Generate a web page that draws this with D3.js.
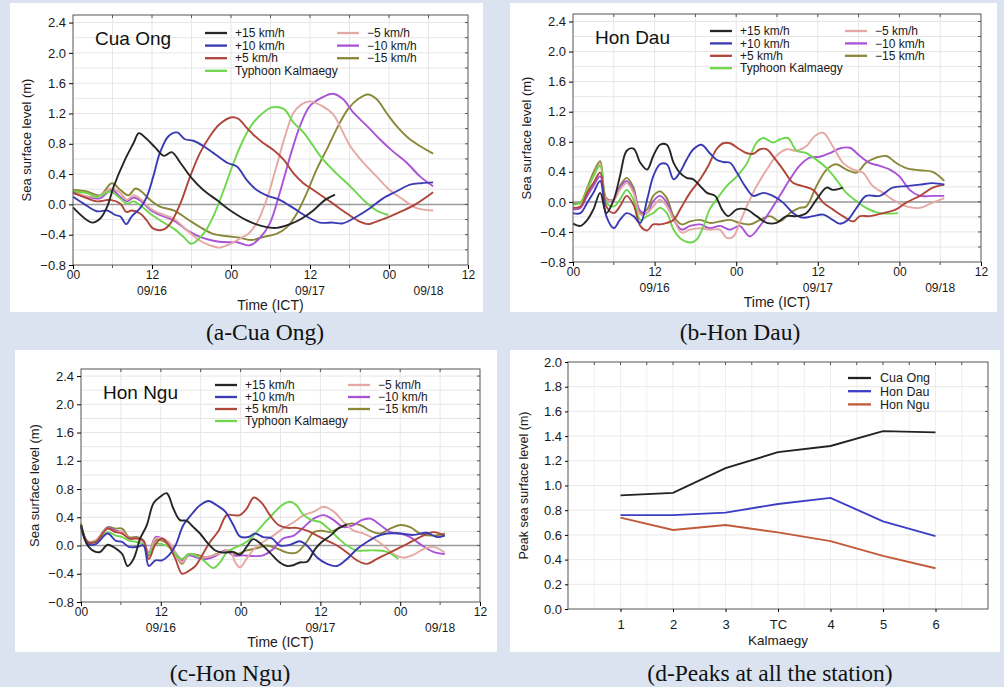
<!DOCTYPE html>
<meta charset="utf-8">
<style>
body { margin: 0; background: #dae3ef; }
svg { display: block; font-family: "Liberation Sans", Arial, sans-serif; }
.caption { font-family: "Liberation Serif", "Times New Roman", serif; font-size: 23.5px; fill: #111; }
.tick text { font-size: 13px; fill: #1a1a1a; }
.xax .tick text { font-size: 12px; }
</style>
<svg width="1004" height="687"></svg>
<script src="https://cdn.jsdelivr.net/npm/d3@7"></script>
<script>

// series labels / colours (same order in every station panel)
var seriesNames = ["+15 km/h", "+10 km/h", "+5 km/h", "Typhoon Kalmaegy", "\u22125 km/h", "\u221210 km/h", "\u221215 km/h"];
var seriesColors = ["#262626", "#3a3ab4", "#b0453a", "#6ed64c", "#e4a9a3", "#a952d8", "#8a8838"];
var hourLabels = ["00", "12", "00", "12", "00", "12"];
var dateLabels = ["09/16", "09/17", "09/18"];
var dateHours = [12, 36, 54];

// ---- Cua Ong: [hour, sea level m]
var caP15 = [[0,-0.04],[2.9,-0.24],[4.1,-0.19],[5.2,-0.03],[6.2,0.24],[7.9,0.59],[9.2,0.81],[10,0.94],[11,0.88],[12.5,0.75],[13.8,0.64],[15,0.69],[16.3,0.55],[18,0.35],[19.8,0.19],[21.8,0.06],[23.9,-0.08],[26.4,-0.21],[28.9,-0.29],[30.9,-0.31],[33,-0.26],[34.7,-0.19],[36.5,-0.08],[38.3,0.06],[39.8,0.13]];
var caP10 = [[0,0.10],[1.6,0.01],[3.6,-0.09],[5.2,-0.08],[6.4,-0.14],[7.2,-0.16],[8.1,-0.26],[8.9,-0.16],[10.2,-0.05],[11.2,0.10],[12.2,0.37],[13.2,0.68],[14.5,0.90],[15.8,0.95],[17,0.86],[18.3,0.84],[19.8,0.77],[21.3,0.68],[23.4,0.55],[24.9,0.50],[26.4,0.32],[27.9,0.19],[29.4,0.12],[31.4,0.06],[33.5,-0.05],[35.5,-0.16],[37.5,-0.24],[39.5,-0.24],[41,-0.25],[43.1,-0.16],[45.1,-0.05],[47.1,0.08],[49.1,0.17],[51.2,0.26],[52.9,0.28],[54.7,0.29]];
var caP5 = [[0,0.16],[1.6,0.10],[3.6,0.04],[5.7,0.06],[7.2,0.01],[8.1,-0.10],[8.9,-0.08],[10.2,-0.12],[11.2,-0.21],[12.2,-0.32],[13.8,-0.33],[14.8,-0.25],[16.3,0.01],[17.8,0.37],[19.3,0.68],[20.8,0.90],[22.3,1.06],[24.1,1.15],[25.1,1.13],[26.4,1.01],[27.4,0.92],[28.9,0.81],[30.4,0.72],[32,0.59],[33.5,0.41],[35,0.28],[36.5,0.19],[38,0.10],[39.5,0.01],[41.6,-0.12],[43.6,-0.23],[44.8,-0.26],[46.6,-0.21],[48.1,-0.16],[50.2,-0.08],[52.2,0.01],[54.7,0.16]];
var caTC = [[0,0.17],[2.1,0.15],[3.6,0.10],[5.7,0.17],[6.9,0.10],[8.2,0.01],[9.2,0.04],[10.2,-0.01],[11.7,-0.12],[13.2,-0.21],[15.3,-0.32],[16.8,-0.43],[18,-0.52],[19.8,-0.39],[21.3,-0.16],[22.9,0.19],[24.4,0.55],[25.9,0.86],[27.4,1.08],[28.9,1.21],[30.2,1.28],[32,1.26],[33.5,1.08],[35,0.95],[36.5,0.77],[38,0.59],[40,0.41],[42.1,0.24],[44.1,0.06],[46.1,-0.08],[47.9,-0.14]];
var caM5 = [[0,0.18],[1.6,0.12],[3.6,0.10],[5.9,0.21],[7.2,0.15],[8.2,0.06],[9.2,0.12],[10.4,0.06],[11.7,-0.05],[13.2,-0.12],[15.3,-0.19],[17.3,-0.34],[19.3,-0.48],[20.8,-0.54],[22.3,-0.57],[23.9,-0.52],[25.4,-0.45],[26.6,-0.39],[27.9,-0.25],[29.4,0.06],[30.9,0.50],[32.2,0.90],[33.5,1.21],[34.7,1.32],[36,1.36],[37.8,1.30],[39.5,1.19],[40.5,1.04],[42.1,0.77],[44.1,0.55],[46.1,0.37],[48.1,0.19],[50.2,0.06],[52.2,-0.05],[54.7,-0.08]];
var caM10 = [[0,0.15],[2.1,0.10],[4.1,0.08],[5.9,0.19],[7.2,0.10],[8.2,0.04],[9.2,0.09],[10.4,0.04],[11.7,-0.07],[13.2,-0.14],[15.3,-0.21],[17.3,-0.34],[19.3,-0.43],[21.3,-0.48],[23.4,-0.50],[24.9,-0.50],[26.9,-0.54],[28.4,-0.44],[29.9,-0.25],[31.4,0.15],[33,0.64],[34.5,1.04],[36,1.30],[37.8,1.41],[39.5,1.46],[41,1.39],[42.6,1.21],[44.6,1.04],[46.6,0.86],[48.6,0.70],[50.7,0.55],[52.7,0.37],[54.7,0.24]];
var caM15 = [[0,0.19],[2.1,0.17],[4.1,0.12],[5.9,0.28],[7.2,0.19],[8.4,0.12],[9.5,0.21],[10.4,0.17],[11.7,0.06],[13.2,-0.03],[15.3,-0.08],[17.3,-0.19],[19.3,-0.30],[21.3,-0.39],[23.4,-0.42],[25.4,-0.44],[27.1,-0.47],[28.9,-0.43],[30.9,-0.39],[32.5,-0.30],[34,-0.12],[35.5,0.15],[37,0.46],[38.8,0.77],[40.3,1.04],[41.8,1.26],[43.3,1.39],[44.8,1.45],[46.1,1.39],[47.6,1.21],[49.1,1.04],[50.9,0.88],[52.7,0.77],[54.7,0.67]];

// ---- Hon Dau
var hdP15 = [[0,-0.29],[1.1,-0.32],[2.1,-0.24],[3,-0.10],[4,0.12],[4.9,-0.15],[6,0.03],[6.9,0.34],[7.9,0.68],[8.9,0.71],[9.9,0.52],[10.9,0.43],[11.8,0.61],[12.8,0.76],[13.8,0.76],[14.8,0.52],[15.7,0.39],[16.7,0.32],[17.7,0.30],[18.7,0.21],[19.7,0.12],[20.9,0.08],[21.9,-0.10],[22.8,-0.19],[24.1,-0.10],[25.5,-0.10],[27,-0.19],[28.5,-0.28],[29.9,-0.28],[31.4,-0.19],[32.9,-0.19],[34.3,-0.15],[35.8,0.03],[37.3,0.19],[38.2,0.16],[39.7,0.19]];
var hdP10 = [[0,-0.15],[1.1,-0.15],[2.1,-0.01],[3,0.12],[4,0.28],[4.9,-0.19],[6,-0.35],[6.9,-0.24],[7.9,-0.15],[8.9,-0.19],[9.9,-0.28],[10.9,0.03],[11.8,0.34],[12.8,0.50],[13.8,0.50],[14.8,0.30],[15.7,0.39],[16.7,0.56],[17.7,0.70],[18.9,0.76],[20.1,0.65],[21.1,0.56],[22.1,0.53],[23.1,0.52],[24.1,0.39],[25.3,0.21],[26.5,0.08],[28,0.12],[29.4,0.08],[30.9,-0.01],[32.4,-0.15],[33.8,-0.21],[35.3,-0.19],[36.8,-0.17],[38.2,-0.24],[39.2,-0.29],[40.4,-0.24],[41.7,-0.08],[43.1,0.08],[45.1,0.08],[47,0.19],[49,0.21],[51,0.23],[52.9,0.25],[54.6,0.23]];
var hdP5 = [[0,-0.08],[1.1,-0.06],[2.1,0.12],[3,0.25],[4,0.39],[4.9,-0.06],[6,-0.15],[6.9,-0.06],[7.9,0.08],[8.9,-0.04],[9.9,-0.32],[10.9,-0.38],[11.8,-0.30],[12.8,-0.30],[13.8,-0.28],[14.8,-0.24],[16,-0.06],[17.2,0.12],[18.7,0.30],[19.9,0.48],[21.1,0.70],[22.1,0.78],[23.1,0.78],[24.5,0.70],[25.5,0.65],[26.5,0.64],[27.5,0.70],[28.5,0.70],[29.4,0.61],[30.9,0.43],[32.4,0.25],[33.8,0.21],[35.3,0.16],[36.8,-0.01],[38.2,-0.10],[39.7,-0.19],[41.2,-0.26],[42.2,-0.19],[43.6,-0.19],[45.6,-0.15],[47.5,-0.10],[49,-0.01],[51,0.08],[52.9,0.19],[54.6,0.23]];
var hdTC = [[0,-0.04],[1.1,-0.01],[2.1,0.16],[3,0.34],[4,0.48],[4.9,-0.01],[6,-0.06],[6.9,0.03],[7.9,0.16],[8.9,0.03],[9.9,-0.24],[10.9,-0.19],[11.8,-0.15],[12.8,-0.08],[13.8,-0.15],[14.8,-0.37],[16,-0.50],[17.2,-0.54],[18.2,-0.50],[19.2,-0.32],[20.1,-0.10],[21.1,0.03],[22.6,0.21],[24.1,0.34],[25.5,0.50],[27,0.79],[28,0.85],[29.4,0.79],[30.4,0.83],[31.6,0.85],[32.9,0.68],[34.3,0.65],[35.8,0.56],[37.3,0.45],[38.7,0.30],[40.2,0.12],[41.7,0.01],[43.1,-0.08],[45.1,-0.15],[47.8,-0.15]];
var hdM5 = [[0,-0.08],[1.1,-0.06],[2.1,0.16],[3,0.34],[4,0.50],[4.9,0.03],[6,0.03],[6.9,0.16],[7.9,0.25],[8.9,0.12],[9.9,-0.17],[10.9,-0.15],[11.8,-0.06],[12.8,0.03],[13.8,-0.06],[14.8,-0.24],[16,-0.41],[17.2,-0.37],[18.7,-0.35],[20.1,-0.37],[21.6,-0.37],[22.6,-0.48],[23.6,-0.46],[24.5,-0.28],[25.8,-0.01],[27,0.21],[28.5,0.43],[29.9,0.61],[31.4,0.70],[32.9,0.68],[34.3,0.74],[35.6,0.88],[36.8,0.92],[38.2,0.74],[39.7,0.52],[41.2,0.43],[42.6,0.39],[44.1,0.21],[45.6,0.12],[47,0.03],[49,-0.06],[51,-0.08],[52.9,-0.01],[54.6,0.05]];
var hdM10 = [[0,-0.10],[1.1,-0.08],[2.1,0.08],[3,0.21],[4,0.34],[4.9,0.03],[6,0.03],[6.9,0.19],[7.9,0.28],[8.9,0.14],[9.9,-0.12],[10.9,-0.15],[11.8,0.01],[12.8,0.08],[13.8,-0.01],[14.8,-0.24],[16,-0.37],[17.2,-0.32],[18.7,-0.30],[20.1,-0.35],[21.6,-0.32],[23.1,-0.37],[24.5,-0.32],[26,-0.46],[27.5,-0.32],[29,-0.12],[30.4,0.08],[31.9,0.30],[33.3,0.48],[34.8,0.59],[36.3,0.60],[37.8,0.65],[39.2,0.71],[40.7,0.72],[42.2,0.61],[43.6,0.52],[45.1,0.48],[46.6,0.43],[48,0.34],[49.5,0.16],[51,0.08],[52.9,0.08],[54.6,0.08]];
var hdM15 = [[0,-0.02],[1.1,-0.01],[2.1,0.19],[3,0.39],[4,0.54],[4.9,0.05],[6,0.03],[6.9,0.21],[7.9,0.32],[8.9,0.19],[9.9,-0.15],[10.9,-0.10],[11.8,0.08],[12.8,0.14],[13.8,0.05],[14.8,-0.19],[16,-0.30],[17.2,-0.26],[18.7,-0.24],[20.1,-0.28],[21.6,-0.26],[23.1,-0.24],[24.5,-0.28],[26,-0.30],[27.5,-0.24],[29,-0.19],[30.4,-0.26],[31.9,-0.15],[33.3,-0.08],[34.3,-0.06],[35.8,0.21],[37.3,0.43],[38.7,0.50],[40.2,0.43],[41.7,0.39],[43.1,0.52],[44.6,0.59],[46.1,0.61],[47.5,0.52],[49,0.45],[51,0.42],[52.9,0.40],[54.6,0.28]];

// ---- Hon Ngu
var hnP15 = [[0,0.29],[1,0.0],[2.2,-0.09],[2.9,-0.09],[4,0.01],[5.2,-0.04],[6.2,-0.12],[7,-0.29],[7.9,-0.19],[8.9,0.10],[9.9,0.29],[10.9,0.60],[11.9,0.69],[12.9,0.74],[13.9,0.52],[14.9,0.36],[15.9,0.35],[16.9,0.26],[17.9,0.17],[18.9,0.05],[20.2,-0.07],[21.4,-0.10],[22.9,-0.09],[23.9,-0.13],[24.9,-0.02],[25.9,0.09],[27.2,0.01],[28.4,-0.10],[29.9,-0.24],[31,-0.29],[31.9,-0.28],[32.9,-0.24],[34,-0.23],[35.2,-0.05],[36.2,0.05],[37.5,0.14],[38.7,0.24],[40,0.30]];
var hnP10 = [[0,0.26],[1,0.02],[2.2,0.02],[4,0.17],[5.2,0.07],[6.2,0.05],[7.2,-0.02],[8.4,-0.02],[9.4,0.0],[10.2,-0.29],[11.2,-0.21],[12.2,-0.21],[13.2,-0.14],[14.2,0.0],[15.4,0.29],[16.7,0.45],[17.9,0.57],[19.2,0.63],[20.4,0.57],[21.7,0.48],[22.9,0.29],[23.9,0.13],[25.2,0.12],[26.2,0.17],[27.4,0.12],[28.7,0.10],[29.9,0.0],[31.4,0.01],[32.9,0.06],[34.2,-0.02],[35.5,-0.17],[37,-0.26],[38.5,-0.29],[40,-0.19],[41.5,-0.05],[43,0.05],[44.5,0.13],[46,0.17],[48,0.17],[50,0.15],[52,0.18],[53.5,0.12],[54.7,0.14]];
var hnP5 = [[0,0.29],[1,0.05],[2.2,0.05],[4,0.24],[5.2,0.19],[6.2,0.17],[7.2,0.10],[8.4,0.10],[9.4,0.07],[10.2,-0.19],[11.2,0.02],[12.2,0.10],[13.2,0.0],[14.2,-0.19],[15.2,-0.40],[16.2,-0.36],[17.2,-0.29],[18.2,-0.14],[19.4,0.05],[20.7,0.21],[21.9,0.43],[22.9,0.43],[23.9,0.43],[24.9,0.52],[26,0.68],[27.2,0.60],[28.4,0.43],[29.7,0.29],[31,0.25],[32.4,0.25],[34,0.21],[35.5,0.14],[37,0.07],[38.5,0.0],[40,-0.10],[41.5,-0.21],[43,-0.26],[44.5,-0.19],[46,-0.12],[47.5,-0.05],[49,0.02],[51,0.12],[53,0.19],[54.7,0.14]];
var hnTC = [[0,0.31],[1,0.05],[2.2,0.05],[4,0.19],[5.2,0.14],[6.2,0.12],[7.2,0.07],[8.4,0.05],[9.4,0.01],[10.2,-0.12],[11.2,0.02],[12.2,0.02],[13.2,-0.02],[14.2,-0.12],[15.2,-0.19],[16.2,-0.12],[17.2,-0.14],[18.4,-0.21],[19.9,-0.32],[20.9,-0.24],[21.9,-0.10],[22.9,-0.04],[23.9,0.0],[25.2,0.07],[26.4,0.19],[27.7,0.33],[28.9,0.45],[30.2,0.57],[31.4,0.62],[32.4,0.57],[33.5,0.43],[34.7,0.36],[36,0.33],[37.2,0.24],[38.5,0.12],[40,0.0],[41.5,-0.07],[43,-0.07],[44.5,-0.07],[46,-0.09],[47.7,-0.19]];
var hnM5 = [[0,0.29],[1,0.05],[2.2,0.07],[4,0.24],[5.2,0.19],[6.2,0.20],[7.2,0.10],[8.4,0.10],[9.4,0.05],[10.2,-0.12],[11.2,0.10],[12.2,0.10],[13.2,0.05],[14.2,-0.10],[15.2,-0.24],[16.2,-0.12],[17.2,-0.14],[18.4,-0.17],[19.9,-0.14],[21.2,-0.10],[22.4,-0.07],[23.2,-0.24],[23.9,-0.31],[24.9,-0.19],[26,-0.05],[27.4,0.05],[28.9,0.14],[30.4,0.24],[32,0.33],[33.5,0.43],[35,0.48],[36.5,0.55],[38,0.48],[39.5,0.33],[41,0.21],[42.5,0.17],[44,0.10],[45.5,0.0],[47,-0.12],[48.5,-0.17],[50,-0.13],[51.5,-0.05],[53,-0.02],[54.7,-0.10]];
var hnM10 = [[0,0.29],[1,0.04],[2.2,0.06],[4,0.25],[5.2,0.21],[6.2,0.19],[7.2,0.10],[8.4,0.10],[9.4,0.04],[10.2,-0.10],[11.2,0.12],[12.2,0.10],[13.2,0.02],[14.2,-0.10],[15.2,-0.21],[16.2,-0.14],[17.4,-0.17],[18.9,-0.19],[20.4,-0.14],[21.7,-0.07],[22.9,-0.14],[24.4,-0.14],[26,-0.15],[27.4,-0.14],[28.9,-0.05],[30.4,0.10],[32,0.14],[33.5,0.26],[35,0.38],[36.5,0.43],[38,0.36],[39.5,0.26],[41,0.29],[42.2,0.36],[43.5,0.38],[45,0.29],[46.5,0.19],[48,0.17],[49.5,0.12],[51,0.02],[53,-0.09],[54.7,-0.12]];
var hnM15 = [[0,0.31],[1,0.06],[2.2,0.07],[4,0.26],[5.2,0.24],[6.2,0.24],[7.2,0.12],[8.4,0.12],[9.4,0.07],[10.2,-0.14],[11.2,0.07],[12.2,0.07],[13.2,0.01],[14.2,-0.12],[15.2,-0.26],[16.2,-0.13],[17.4,-0.13],[18.9,-0.17],[20.4,-0.12],[21.9,-0.07],[23.4,-0.12],[24.9,-0.07],[26.4,-0.04],[27.9,0.0],[29.4,-0.04],[31,-0.10],[32.4,-0.10],[33.7,0.02],[35,0.19],[36.2,0.21],[37.5,0.19],[39,0.26],[40.5,0.31],[42,0.29],[43.5,0.21],[45,0.17],[46.5,0.24],[48,0.29],[49.5,0.26],[51,0.17],[53,0.14],[54.7,0.17]];

// ---- peaks (panel d)
var peakCats = ["1", "2", "3", "TC", "4", "5", "6"];
var peakCuaOng = [0.92, 0.94, 1.14, 1.27, 1.32, 1.44, 1.43];
var peakHonDau = [0.76, 0.76, 0.78, 0.85, 0.90, 0.71, 0.59];
var peakHonNgu = [0.74, 0.64, 0.68, 0.62, 0.55, 0.43, 0.33];
var peakNames = ["Cua Ong", "Hon Dau", "Hon Ngu"];
var peakColors = ["#222222", "#3d3dc8", "#c05a38"];

var svg = d3.select("svg");

function timePanel(o) {
  var g = svg.append("g");
  g.append("rect")
    .attr("x", o.box[0]).attr("y", o.box[1])
    .attr("width", o.box[2]).attr("height", o.box[3])
    .attr("fill", "#fff");

  var x = d3.scaleLinear().domain([0, 60]).range([o.left, o.right]);
  var y = d3.scaleLinear().domain([-0.8, 2.5]).range([o.bottom, o.top]);

  // grid
  g.append("g").selectAll("line")
    .data(d3.range(1, 10).map(i => i * 6))
    .join("line")
      .attr("x1", d => x(d)).attr("x2", d => x(d))
      .attr("y1", o.top).attr("y2", o.bottom)
      .attr("stroke", "#e6e6e6");
  g.append("g").selectAll("line")
    .data(d3.range(-3, 13).map(i => i * 0.2))
    .join("line")
      .attr("x1", o.left).attr("x2", o.right)
      .attr("y1", d => y(d)).attr("y2", d => y(d))
      .attr("stroke", "#e6e6e6");
  g.append("line")
    .attr("x1", o.left).attr("x2", o.right)
    .attr("y1", y(0)).attr("y2", y(0))
    .attr("stroke", "#9a9a9a").attr("stroke-width", 1.5);

  var line = d3.line()
    .x(d => x(d[0])).y(d => y(d[1]))
    .curve(d3.curveCatmullRom.alpha(0.5));

  var order = [6, 5, 4, 3, 2, 1, 0];
  g.append("g").selectAll("path")
    .data(order)
    .join("path")
      .attr("d", i => line(o.series[i]))
      .attr("fill", "none")
      .attr("stroke", i => seriesColors[i])
      .attr("stroke-width", 1.9)
      .attr("stroke-linejoin", "round");

  // frame
  g.append("rect")
    .attr("x", o.left).attr("y", o.top)
    .attr("width", o.right - o.left).attr("height", o.bottom - o.top)
    .attr("fill", "none").attr("stroke", "#555");

  // inward minor ticks on top / right
  g.append("g").selectAll("line")
    .data(d3.range(1, 10).map(i => i * 6))
    .join("line")
      .attr("x1", d => x(d)).attr("x2", d => x(d))
      .attr("y1", o.top).attr("y2", o.top + 3)
      .attr("stroke", "#555");
  g.append("g").selectAll("line")
    .data(d3.range(-3, 13).map(i => i * 0.2))
    .join("line")
      .attr("x1", o.right).attr("x2", o.right - 3)
      .attr("y1", d => y(d)).attr("y2", d => y(d))
      .attr("stroke", "#555");

  var yAxis = g.append("g")
    .attr("transform", "translate(" + o.left + ",0)")
    .call(d3.axisLeft(y)
      .tickValues(d3.range(-2, 7).map(i => i * 0.4))
      .tickFormat(d3.format(".1f"))
      .tickSize(4).tickPadding(3));
  yAxis.select(".domain").remove();

  var xAxis = g.append("g")
    .attr("class", "xax")
    .attr("transform", "translate(0," + o.bottom + ")")
    .call(d3.axisBottom(x)
      .tickValues([0, 12, 24, 36, 48, 60])
      .tickFormat((d, i) => hourLabels[i])
      .tickSize(4).tickPadding(1));
  xAxis.select(".domain").remove();
  g.append("g").selectAll("line")
    .data([6, 18, 30, 42, 54])
    .join("line")
      .attr("x1", d => x(d)).attr("x2", d => x(d))
      .attr("y1", o.bottom).attr("y2", o.bottom + 3)
      .attr("stroke", "#555");

  g.append("g").selectAll("text")
    .data(dateLabels)
    .join("text")
      .attr("x", (d, i) => x(dateHours[i]))
      .attr("y", o.bottom + 30)
      .attr("text-anchor", "middle")
      .attr("font-size", 12).attr("fill", "#1a1a1a")
      .text(d => d);

  g.append("text")
    .attr("x", x(30)).attr("y", o.bottom + 45)
    .attr("text-anchor", "middle")
    .attr("font-size", 14).attr("fill", "#1a1a1a")
    .text("Time (ICT)");

  g.append("text")
    .attr("transform", "translate(" + (o.left - 42) + "," + ((o.top + o.bottom) / 2) + ") rotate(-90)")
    .attr("text-anchor", "middle")
    .attr("font-size", 13).attr("fill", "#1a1a1a")
    .text("Sea surface level (m)");

  g.append("text")
    .attr("x", o.left + 22).attr("y", o.top + 30)
    .attr("font-size", 19).attr("fill", "#111")
    .text(o.name);

  // legend
  var leg = g.append("g").selectAll("g")
    .data(seriesNames)
    .join("g")
      .attr("transform", (d, i) => {
        var col = i < 4 ? 0 : 1, row = i < 4 ? i : i - 4;
        return "translate(" + (o.legX + col * o.legCol) + "," + (o.legY + row * o.legRow) + ")";
      });
  leg.append("line")
    .attr("x1", 0).attr("x2", 22)
    .attr("stroke", (d, i) => seriesColors[i])
    .attr("stroke-width", 2.3);
  leg.append("text")
    .attr("x", 30).attr("dy", "0.35em")
    .attr("font-size", 12).attr("fill", "#1a1a1a")
    .text(d => d);

  svg.append("text")
    .attr("class", "caption")
    .attr("x", o.capX).attr("y", o.capY)
    .attr("text-anchor", "middle")
    .text(o.caption);
}

timePanel({
  box: [10, 3, 473, 309], left: 73, right: 468, top: 15, bottom: 265,
  name: "Cua Ong", series: [caP15, caP10, caP5, caTC, caM5, caM10, caM15],
  legX: 205, legY: 33, legRow: 12.6, legCol: 132,
  caption: "(a-Cua Ong)", capX: 265, capY: 340
});
timePanel({
  box: [510, 3, 487, 309], left: 573, right: 981, top: 14, bottom: 262,
  name: "Hon Dau", series: [hdP15, hdP10, hdP5, hdTC, hdM5, hdM10, hdM15],
  legX: 710, legY: 31, legRow: 12.4, legCol: 135,
  caption: "(b-Hon Dau)", capX: 740, capY: 340
});
timePanel({
  box: [15, 350, 482, 302], left: 81, right: 480, top: 369, bottom: 602,
  name: "Hon Ngu", series: [hnP15, hnP10, hnP5, hnTC, hnM5, hnM10, hnM15],
  legX: 215, legY: 385, legRow: 12, legCol: 133,
  caption: "(c-Hon Ngu)", capX: 230, capY: 681
});

// ---- panel d: peaks
(function() {
  var left = 568, right = 988, top = 362, bottom = 609;
  var g = svg.append("g");
  g.append("rect").attr("x", 510).attr("y", 350).attr("width", 490).attr("height", 302).attr("fill", "#fff");

  var x = d3.scaleLinear().domain([0, 8]).range([left, right]);
  var y = d3.scaleLinear().domain([0, 2]).range([bottom, top]);

  g.append("g").selectAll("line")
    .data(d3.range(1, 16).map(i => i * 0.5))
    .join("line")
      .attr("x1", d => x(d)).attr("x2", d => x(d))
      .attr("y1", top).attr("y2", bottom)
      .attr("stroke", "#efefef");
  g.append("g").selectAll("line")
    .data(d3.range(1, 10).map(i => i * 0.2))
    .join("line")
      .attr("x1", left).attr("x2", right)
      .attr("y1", d => y(d)).attr("y2", d => y(d))
      .attr("stroke", "#e8e8e8");

  var series = [peakCuaOng, peakHonDau, peakHonNgu];
  var line = d3.line().x((d, i) => x(i + 1)).y(d => y(d));
  g.append("g").selectAll("path")
    .data(series)
    .join("path")
      .attr("d", d => line(d))
      .attr("fill", "none")
      .attr("stroke", (d, i) => peakColors[i])
      .attr("stroke-width", 1.9);

  g.append("rect")
    .attr("x", left).attr("y", top)
    .attr("width", right - left).attr("height", bottom - top)
    .attr("fill", "none").attr("stroke", "#555");
  g.append("g").selectAll("line")
    .data(d3.range(1, 16).map(i => i * 0.5))
    .join("line")
      .attr("x1", d => x(d)).attr("x2", d => x(d))
      .attr("y1", top).attr("y2", top + 3)
      .attr("stroke", "#555");
  g.append("g").selectAll("line")
    .data(d3.range(1, 10).map(i => i * 0.2))
    .join("line")
      .attr("x1", right).attr("x2", right - 3)
      .attr("y1", d => y(d)).attr("y2", d => y(d))
      .attr("stroke", "#555");

  var yAxis = g.append("g")
    .attr("transform", "translate(" + left + ",0)")
    .call(d3.axisLeft(y)
      .tickValues(d3.range(0, 11).map(i => i * 0.2))
      .tickFormat(d3.format(".1f"))
      .tickSize(3).tickPadding(3));
  yAxis.select(".domain").remove();

  var xAxis = g.append("g")
    .attr("transform", "translate(0," + bottom + ")")
    .call(d3.axisBottom(x)
      .tickValues(d3.range(1, 8))
      .tickFormat(d => peakCats[d - 1])
      .tickSize(3).tickPadding(8));
  xAxis.select(".domain").remove();

  g.append("text")
    .attr("x", x(4)).attr("y", bottom + 36)
    .attr("text-anchor", "middle")
    .attr("font-size", 13.5).attr("fill", "#1a1a1a")
    .text("Kalmaegy");

  g.append("text")
    .attr("transform", "translate(" + (left - 40) + "," + ((top + bottom) / 2) + ") rotate(-90)")
    .attr("text-anchor", "middle")
    .attr("font-size", 12.5).attr("fill", "#1a1a1a")
    .text("Peak sea surface level (m)");

  var leg = g.append("g").selectAll("g")
    .data(peakNames)
    .join("g")
      .attr("transform", (d, i) => "translate(848," + (378 + i * 13.2) + ")");
  leg.append("line")
    .attr("x1", 0).attr("x2", 23)
    .attr("stroke", (d, i) => peakColors[i])
    .attr("stroke-width", 2.3);
  leg.append("text")
    .attr("x", 32).attr("dy", "0.35em")
    .attr("font-size", 12.5).attr("fill", "#1a1a1a")
    .text(d => d);

  svg.append("text")
    .attr("class", "caption")
    .attr("x", 770).attr("y", 681)
    .attr("text-anchor", "middle")
    .text("(d-Peaks at all the station)");
})();

</script>
